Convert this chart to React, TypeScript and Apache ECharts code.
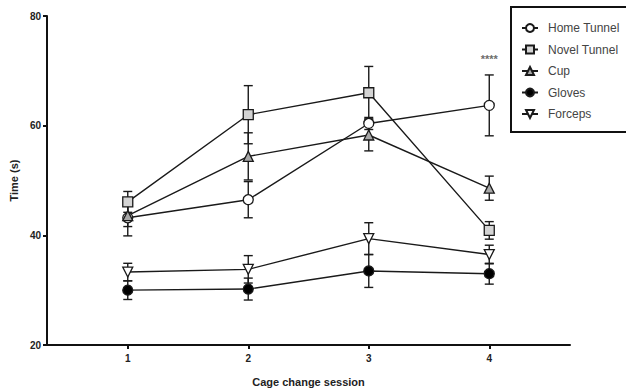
import React, { useEffect, useRef } from "react";
import * as echarts from "echarts";

const sessions = [1, 2, 3, 4];
const seriesNames = ["Home Tunnel", "Novel Tunnel", "Cup", "Gloves", "Forceps"];
const homeTunnel = [43.2, 46.5, 60.4, 63.7];
const homeTunnelErr = [3.3, 3.3, 1.1, 5.55];
const novelTunnel = [46.1, 62.0, 66.0, 40.9];
const novelTunnelErr = [1.9, 5.3, 4.8, 1.6];
const cup = [43.6, 54.4, 58.3, 48.6];
const cupErr = [2.0, 4.3, 2.9, 2.2];
const gloves = [30.0, 30.2, 33.5, 33.0];
const glovesErr = [1.7, 2.0, 3.0, 1.9];
const forceps = [33.3, 33.8, 39.4, 36.5];
const forcepsErr = [1.6, 2.5, 2.9, 1.7];
const yTicks = [20, 40, 60, 80];
const sigLabel = "****";
const sigPoint = [4, 72.2];

const FONT = "'Liberation Sans', Arial, sans-serif";

export default function App() {
  const ref = useRef<HTMLDivElement>(null);
  useEffect(() => {
    if (!ref.current) return;
    const chart = echarts.init(ref.current, undefined, { renderer: "svg" });

    const means = [homeTunnel, novelTunnel, cup, gloves, forceps];
    const errs = [homeTunnelErr, novelTunnelErr, cupErr, glovesErr, forcepsErr];
    const symbols = ["circle", "rect", "triangle", "circle", "triangle"];
    const rotates = [0, 0, 0, 0, 180];
    const fills = ["#ffffff", "#d4d4d4", "#a8a8a8", "#000000", "#ffffff"];
    const sizes = [10, 10, 10, 10, 10];

    const lineSeries: any[] = seriesNames.map((name, i) => ({
      name,
      type: "line",
      data: sessions.map((s, j) => [s, means[i][j]]),
      symbol: symbols[i],
      symbolSize: sizes[i],
      symbolRotate: rotates[i],
      lineStyle: { color: "#1a1a1a", width: 1.4 },
      itemStyle: { color: fills[i], borderColor: "#1a1a1a", borderWidth: 1.3 },
      z: 3,
    }));

    const errSeries: any[] = seriesNames.map((name, i) => ({
      name: name + " err",
      type: "custom",
      z: 2,
      renderItem: (params: any, api: any) => {
        const x = api.value(0);
        const lo = api.coord([x, api.value(1)]);
        const hi = api.coord([x, api.value(2)]);
        const w = 4.5;
        const style = { stroke: "#1a1a1a", lineWidth: 1.4 };
        return {
          type: "group",
          children: [
            { type: "line", shape: { x1: lo[0], y1: lo[1], x2: hi[0], y2: hi[1] }, style },
            { type: "line", shape: { x1: lo[0] - w, y1: lo[1], x2: lo[0] + w, y2: lo[1] }, style },
            { type: "line", shape: { x1: hi[0] - w, y1: hi[1], x2: hi[0] + w, y2: hi[1] }, style },
          ],
        };
      },
      encode: { x: 0, y: [1, 2] },
      data: sessions.map((s, j) => [s, means[i][j] - errs[i][j], means[i][j] + errs[i][j]]),
      silent: true,
    }));

    const sigSeries = {
      name: "sig",
      type: "scatter",
      data: [sigPoint],
      symbolSize: 0,
      label: {
        show: true,
        formatter: sigLabel,
        position: "inside",
        color: "#444",
        fontFamily: FONT,
        fontSize: 11,
        fontWeight: "bold",
      },
      silent: true,
    };

    chart.setOption({
      animation: false,
      backgroundColor: "#ffffff",
      grid: { left: 45, right: 56, top: 16, bottom: 47, containLabel: false },
      xAxis: {
        type: "value",
        min: 0.33,
        max: 4.67,
        name: "Cage change session",
        nameLocation: "middle",
        nameGap: 31,
        nameTextStyle: { fontFamily: FONT, fontSize: 11, fontWeight: "bold", color: "#222" },
        axisLine: { lineStyle: { color: "#111", width: 2 } },
        axisTick: { show: true, customValues: sessions, length: 4, lineStyle: { color: "#111", width: 2 } },
        axisLabel: {
          customValues: sessions,
          fontFamily: FONT,
          fontSize: 10,
          fontWeight: "bold",
          color: "#222",
          margin: 8,
        },
        splitLine: { show: false },
      },
      yAxis: {
        type: "value",
        min: 20,
        max: 80,
        interval: 20,
        name: "Time (s)",
        nameLocation: "middle",
        nameGap: 22,
        nameTextStyle: { fontFamily: FONT, fontSize: 11, fontWeight: "bold", color: "#222" },
        axisLine: { show: true, lineStyle: { color: "#111", width: 2 } },
        axisTick: { show: true, length: 4, lineStyle: { color: "#111", width: 2 } },
        axisLabel: {
          customValues: yTicks,
          fontFamily: FONT,
          fontSize: 10,
          fontWeight: "bold",
          color: "#222",
          margin: 6,
        },
        splitLine: { show: false },
      },
      legend: {
        data: seriesNames,
        orient: "vertical",
        left: 511,
        top: 7,
        padding: [15, 30, 12, 10],
        itemGap: 9.5,
        itemWidth: 16,
        itemHeight: 10,
        borderColor: "#111",
        borderWidth: 2,
        textStyle: { fontFamily: FONT, fontSize: 12, color: "#444", padding: [0, 0, 0, 5] },
      },
      series: [...errSeries, ...lineSeries, sigSeries],
    });

    return () => chart.dispose();
  }, []);

  return <div ref={ref} style={{ width: 626, height: 392, position: "absolute", left: 0, top: 0 }} />;
}
